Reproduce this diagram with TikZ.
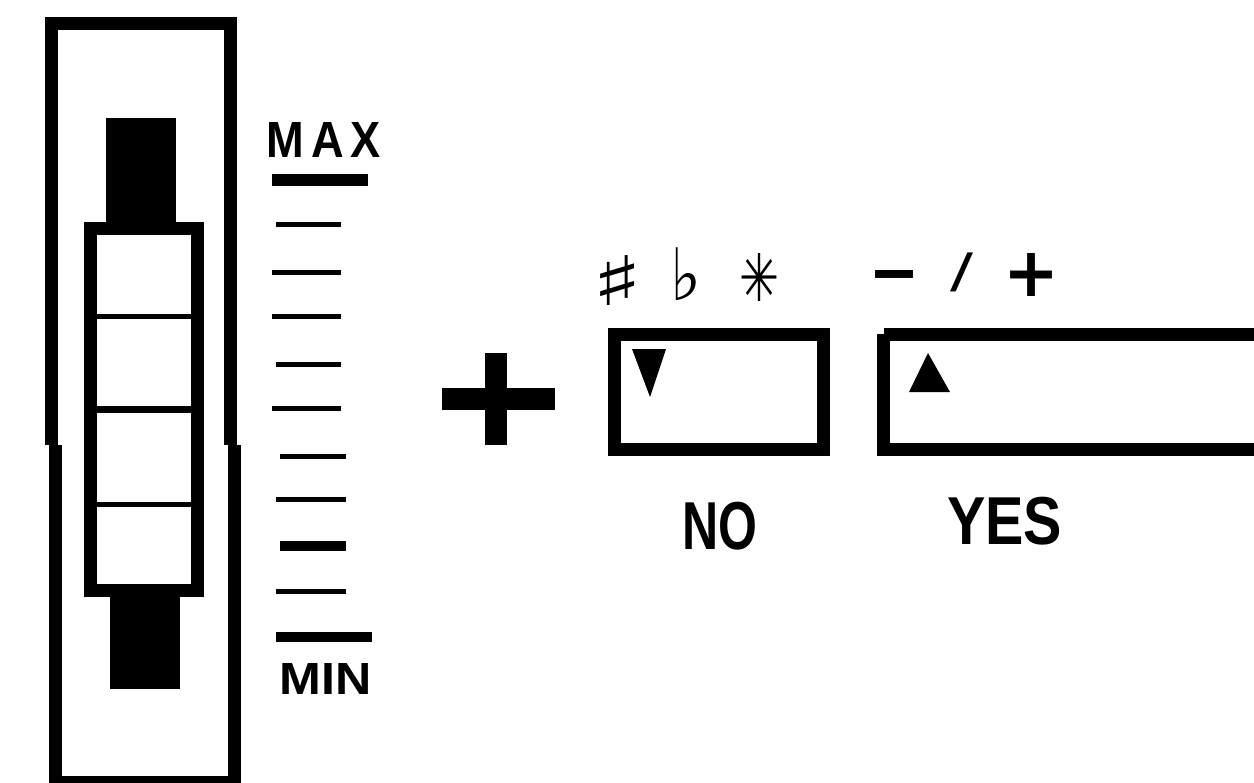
\documentclass[tikz,border=0pt]{standalone}
\usepackage{fontspec}
\setmainfont{Liberation Sans}
\newfontfamily\symfont{DejaVu Sans}
\newfontfamily\symbold{DejaVu Sans Bold}
\usepackage{graphicx}
\newlength\pxu
\setlength\pxu{0.02cm}
\newcommand\fitbox[3]{\resizebox*{#1\pxu}{#2\pxu}{#3}}
\begin{document}
\begin{tikzpicture}[x=0.02cm,y=-0.02cm,
  frameline/.style={draw=black,line width=0.26cm,line join=miter},
  thinline/.style={draw=black,line width=0.1cm},
  midline/.style={draw=black,line width=0.14cm},
  tickline/.style={draw=black,line width=0.1cm},
  heavytick/.style={draw=black,line width=0.2cm},
  knob/.style={fill=black,draw=none},
  marker/.style={fill=black,draw=none},
  lbl/.style={inner sep=0pt,outer sep=0pt,anchor=center}]
\useasboundingbox (0,0) rectangle (1254,782);
% outer frame
\draw[frameline] (51.5,445) -- (51.5,23.5) -- (230,23.5) -- (230,445);
\draw[frameline] (55.5,445) -- (55.5,782) -- (234.5,782) -- (234.5,445);
% knobs
\path[knob] (106,118) rectangle (176,224);
\path[knob] (110,596) rectangle (180,689);
% slider boxes
\draw[frameline] (90.5,228.5) rectangle (197,590.5);
\draw[thinline] (90,316) -- (197,316);
\draw[midline] (90,409.5) -- (197,409.5);
\draw[thinline] (90,504) -- (197,504);
% scale
\draw[draw=black,line width=0.24cm] (272,180) -- (368,180);
\foreach \yy/\xa/\xb in {224/276/341,272/272/341,316/272/341,364/276/341,408/272/341,456/280/346,499/276/346,591/276/346}
  \draw[tickline] (\xa,\yy) -- (\xb,\yy);
\draw[heavytick] (280,546) -- (346,546);
\draw[heavytick] (276,637) -- (372,637);
\node[lbl] (max) at (324,139.5) {\fitbox{114}{35}{\bfseries M\kern1.5pt A\kern1.5pt X}};
\node[lbl] (min) at (326,678.5) {\fitbox{92}{31}{\bfseries MIN}};
% big plus
\path[fill=black] (485,353) rectangle (507,445);
\path[fill=black] (442,388) rectangle (555,410);
% NO box
\draw[frameline] (614,334) rectangle (823,449);
\path[marker] (632,349) -- (666,349) -- (650,397) -- cycle;
% YES box
\draw[frameline] (883.5,334) -- (883.5,449) -- (1270,449);
\draw[frameline] (883.5,334) -- (1270,334);
\path[marker] (909,392) -- (950,392) -- (928,353) -- cycle;
% symbols
\node[lbl] (sharp) at (617,280) {\fitbox{52}{50}{\symbold ♯}};
\node[lbl] (flat) at (686,274.5) {\fitbox{31}{53}{\symbold ♭}};
\node[lbl] (star) at (759,277) {\fitbox{40}{48}{\symfont ✳}};
\node[lbl] (minus) at (894,287.5) {\fitbox{42}{35}{\symfont —}};
\node[lbl] (slash) at (961.5,272.5) {\fitbox{23}{39}{\symfont /}};
\node[lbl] (plus) at (1031,274.5) {\fitbox{56}{43}{\symbold +}};
% labels
\node[lbl] (no) at (719.5,526) {\fitbox{75}{48}{\bfseries NO}};
\node[lbl] (yes) at (1004.5,521) {\fitbox{115}{48}{\bfseries YES}};
\end{tikzpicture}
\end{document}
